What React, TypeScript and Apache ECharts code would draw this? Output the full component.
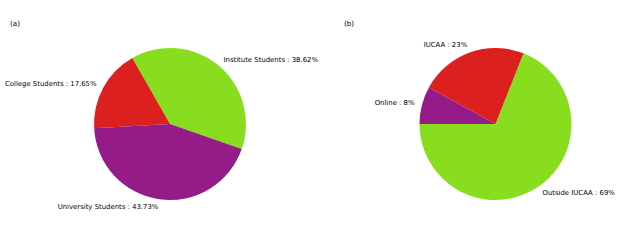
import React, { useEffect, useRef } from "react";
import * as echarts from "echarts";

const studentCategories = ["Institute Students", "College Students", "University Students"];
const studentValues = [38.62, 17.65, 43.73];
const locationCategories = ["Outside IUCAA", "IUCAA", "Online"];
const locationValues = [69, 23, 8];
const sliceColors = ["#88dd1f", "#dc1f1f", "#951b88"];
const panelTitles = ["(a)", "(b)"];

export default function App() {
  const ref = useRef<HTMLDivElement>(null);
  useEffect(() => {
    document.body.style.margin = "0";
    const chart = echarts.init(ref.current!, undefined, { renderer: "svg" });
    const font = "DejaVu Sans";
    const radius = 76;
    const mkSeries = (cats: string[], vals: number[], center: number[], startAngle: number) => ({
      type: "pie",
      center,
      radius,
      startAngle,
      clockwise: false,
      avoidLabelOverlap: false,
      silent: true,
      itemStyle: { borderWidth: 0 },
      label: {
        show: true,
        position: "outside",
        formatter: "{b} : {c}%",
        fontFamily: font,
        fontSize: 6.9,
        color: "#000",
        distanceToLabelLine: 0,
      },
      labelLine: { show: false, length: radius * 0.1, length2: 0 },
      data: cats.map((c, i) => ({ name: c, value: vals[i], itemStyle: { color: sliceColors[i] } })),
    });
    const titleStyle = { fontFamily: font, fontSize: 7.2, fontWeight: "normal", color: "#000" };
    chart.setOption({
      animation: false,
      title: [
        { text: panelTitles[0], left: 10, top: 19.5, padding: 0, textStyle: titleStyle },
        { text: panelTitles[1], left: 344, top: 19.5, padding: 0, textStyle: titleStyle },
      ],
      series: [
        mkSeries(studentCategories, studentValues, [170, 124], -19.3),
        mkSeries(locationCategories, locationValues, [495.5, 124], 180),
      ],
    });
    return () => chart.dispose();
  }, []);
  return <div ref={ref} style={{ width: 628, height: 247, background: "#fff" }} />;
}
